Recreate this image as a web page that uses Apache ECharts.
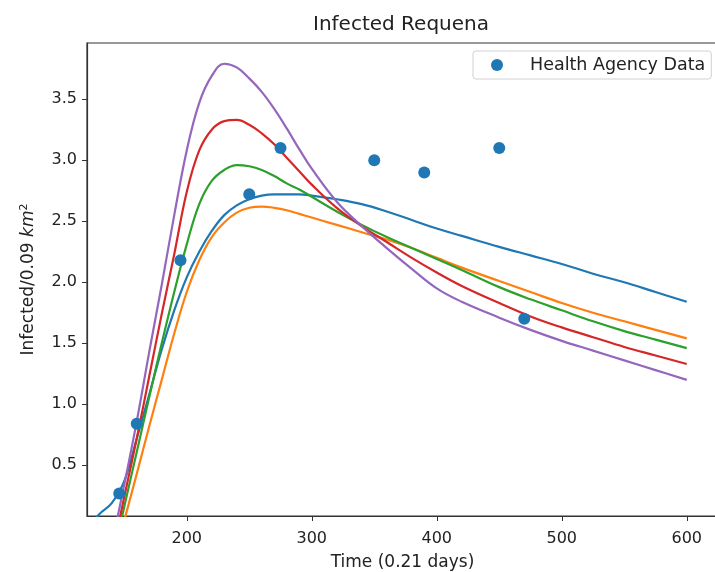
<!DOCTYPE html>
<html>
<head>
<meta charset="utf-8">
<script src="https://cdn.jsdelivr.net/npm/echarts@6/dist/echarts.min.js"></script>
<style>
  html, body { margin: 0; padding: 0; background: #fff; overflow: hidden; }
  #chart-container { width: 720px; height: 572px; }
</style>
</head>
<body>
<div id="chart-container"></div>
<script>
// shared time grid for the model curves
const times = [120, 130, 140, 150, 160, 170, 180, 190, 200, 210, 220, 230, 240, 250, 260, 270, 280, 290, 300, 320, 340, 360, 380, 400, 420, 450, 475, 500, 525, 550, 575, 600];

const blueCurve   = [-0.02, 0.10, 0.19, 0.37, 0.72, 1.08, 1.45, 1.77, 2.04, 2.25, 2.42, 2.55, 2.63, 2.68, 2.71, 2.72, 2.72, 2.72, 2.71, 2.68, 2.64, 2.58, 2.51, 2.44, 2.38, 2.29, 2.22, 2.15, 2.07, 2.00, 1.92, 1.84];
const orangeCurve = [null, null, -0.30, 0.05, 0.43, 0.82, 1.20, 1.58, 1.92, 2.18, 2.37, 2.49, 2.57, 2.61, 2.62, 2.61, 2.59, 2.56, 2.53, 2.47, 2.41, 2.35, 2.28, 2.20, 2.12, 2.01, 1.92, 1.83, 1.75, 1.68, 1.61, 1.54];
const greenCurve  = [null, null, -0.30, 0.16, 0.61, 1.06, 1.50, 1.92, 2.31, 2.64, 2.83, 2.92, 2.96, 2.95, 2.92, 2.87, 2.81, 2.76, 2.70, 2.58, 2.47, 2.37, 2.28, 2.19, 2.10, 1.96, 1.86, 1.77, 1.68, 1.60, 1.53, 1.46];
const redCurve    = [null, null, -0.25, 0.24, 0.72, 1.23, 1.74, 2.23, 2.74, 3.08, 3.25, 3.32, 3.33, 3.29, 3.22, 3.13, 3.02, 2.91, 2.80, 2.61, 2.46, 2.33, 2.20, 2.08, 1.97, 1.83, 1.72, 1.63, 1.55, 1.47, 1.40, 1.33];
const purpleCurve = [null, null, -0.15, 0.34, 0.86, 1.43, 1.98, 2.55, 3.08, 3.47, 3.69, 3.79, 3.76, 3.67, 3.56, 3.42, 3.26, 3.09, 2.93, 2.66, 2.46, 2.28, 2.11, 1.95, 1.84, 1.71, 1.61, 1.52, 1.44, 1.36, 1.28, 1.20];

// health agency observations
const obsTimes  = [146, 160, 195, 250, 275, 350, 390, 450, 470];
const obsValues = [0.27, 0.84, 2.18, 2.72, 3.10, 3.00, 2.90, 3.10, 1.70];

const xTicks = [200, 300, 400, 500, 600];
const yTicks = [0.5, 1.0, 1.5, 2.0, 2.5, 3.0, 3.5];

const curves = [
  { data: blueCurve, color: '#1f77b4' },
  { data: orangeCurve, color: '#ff7f0e' },
  { data: greenCurve, color: '#2ca02c' },
  { data: redCurve, color: '#d62728' },
  { data: purpleCurve, color: '#9467bd' }
];

const font = 'DejaVu Sans';
const myChart = echarts.init(document.getElementById('chart-container'));

const lineSeries = curves.map(c => ({
  type: 'line',
  data: times.map((t, i) => [t, c.data[i]]),
  smooth: 0.4,
  showSymbol: false,
  clip: true,
  lineStyle: { color: c.color, width: 2.2 },
  itemStyle: { color: c.color },
  silent: true,
  z: 2
}));

const option = {
  animation: false,
  textStyle: { fontFamily: font },
  title: {
    text: 'Infected Requena',
    left: 396,
    top: 10,
    textAlign: 'center',
    textStyle: { fontFamily: font, fontSize: 20, fontWeight: 'normal', color: '#222' }
  },
  legend: {
    data: ['Health Agency Data'],
    left: 473,
    top: 51,
    padding: [5, 6, 5, 18],
    backgroundColor: '#fff',
    borderColor: '#d0d0d0',
    borderWidth: 1,
    borderRadius: 3,
    itemWidth: 12,
    itemHeight: 12,
    icon: 'circle',
    textStyle: { fontFamily: font, fontSize: 17.5, color: '#222', padding: [0, 0, 0, 22] }
  },
  grid: {
    left: 87, top: 43, width: 631, height: 473,
    outerBoundsMode: 'none',
    show: true, borderColor: '#333', borderWidth: 1.2
  },
  xAxis: {
    type: 'value',
    min: 120.2,
    max: 625,
    name: 'Time (0.21 days)',
    nameLocation: 'middle',
    nameGap: 38,
    nameTextStyle: { fontFamily: font, fontSize: 17, color: '#222' },
    axisLine: { show: true, lineStyle: { color: '#333', width: 1.2 } },
    axisTick: { show: true, length: 5, customValues: xTicks, lineStyle: { color: '#333' } },
    axisLabel: { customValues: xTicks, fontSize: 16, color: '#222', margin: 15 },
    splitLine: { show: false }
  },
  yAxis: {
    type: 'value',
    min: 0.085,
    max: 3.96,
    name: 'Infected/0.09 {it|km}{sup|2}',
    nameLocation: 'middle',
    nameGap: 48,
    nameRotate: 90,
    nameTextStyle: {
      fontFamily: font, fontSize: 17, color: '#222',
      rich: {
        it: { fontFamily: font, fontSize: 17, fontStyle: 'italic', color: '#222' },
        sup: { fontFamily: font, fontSize: 11, color: '#222', verticalAlign: 'top', padding: [0, 0, 9, 0] }
      }
    },
    axisLine: { show: true, lineStyle: { color: '#333', width: 1.2 } },
    axisTick: { show: true, length: 5, customValues: yTicks, lineStyle: { color: '#333' } },
    axisLabel: { customValues: yTicks, fontSize: 16, color: '#222', margin: 10, formatter: v => v.toFixed(1) },
    splitLine: { show: false }
  },
  series: [
    ...lineSeries,
    {
      name: 'Health Agency Data',
      type: 'scatter',
      data: obsTimes.map((t, i) => [t, obsValues[i]]),
      symbolSize: 12,
      itemStyle: { color: '#1f77b4', opacity: 1 },
      z: 5
    }
  ]
};

myChart.setOption(option);
</script>
</body>
</html>
